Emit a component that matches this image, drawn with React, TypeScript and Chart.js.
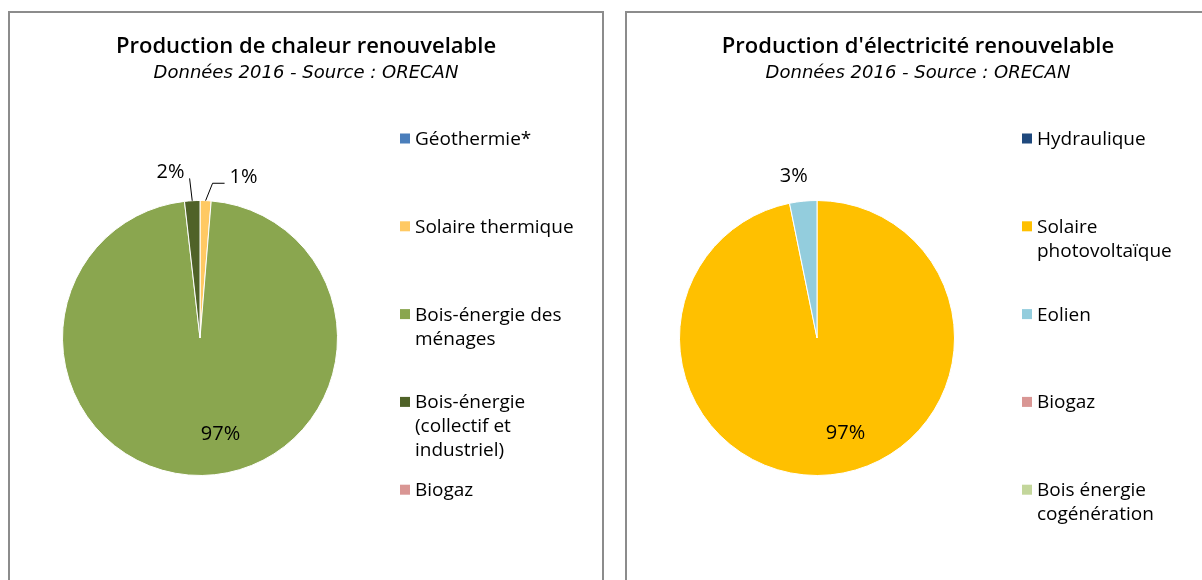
import React, { useEffect, useRef } from "react";
import { Chart, registerables } from "chart.js";

Chart.register(...registerables);

// ---------- Data ----------
const heatTitle = "Production de chaleur renouvelable";
const elecTitle = "Production d'électricité renouvelable";
const subtitleText = "Données 2016 - Source : ORECAN";

const heatCategories: string[][] = [
  ["Géothermie*"],
  ["Solaire thermique"],
  ["Bois-énergie des", "ménages"],
  ["Bois-énergie", "(collectif et", "industriel)"],
  ["Biogaz"],
];
const heatValues = [0, 1.3, 96.9, 1.8, 0];
const heatColors = ["#4A7EBB", "#FFC963", "#8AA64F", "#4F6228", "#D99694"];

const elecCategories: string[][] = [
  ["Hydraulique"],
  ["Solaire", "photovoltaïque"],
  ["Eolien"],
  ["Biogaz"],
  ["Bois énergie", "cogénération"],
];
const elecValues = [0, 96.8, 3.2, 0, 0];
const elecColors = ["#1F497D", "#FFC000", "#93CDDD", "#D99694", "#C3D69B"];

// ---------- Styling ----------
const FONT = "'Open Sans', 'Noto Sans', sans-serif";
const SUB_FONT = "'DejaVu Sans', sans-serif";

type LabelLayout = { r?: number; dx?: number; dy?: number; leader?: number[][] };

const pieExtras = {
  id: "pieExtras",
  afterDraw(chart: any, _args: any, opts: any) {
    const ctx: CanvasRenderingContext2D = chart.ctx;
    const meta = chart.getDatasetMeta(0);
    const data = chart.data.datasets[0].data as number[];
    const colors = chart.data.datasets[0].backgroundColor as string[];
    const labels = chart.data.labels as string[][];
    const total = data.reduce((a, b) => a + b, 0);
    ctx.save();
    ctx.fillStyle = "#000";
    ctx.strokeStyle = "#000";
    ctx.lineWidth = 1;
    ctx.textAlign = "center";
    ctx.textBaseline = "middle";
    // titles (centred on the whole panel)
    const cw = chart.width;
    ctx.font = `600 ${opts.title.size}px ${FONT}`;
    ctx.fillText(opts.title.text, cw / 2, opts.title.y);
    ctx.font = `italic ${opts.subtitle.size}px ${SUB_FONT}`;
    ctx.fillText(opts.subtitle.text, cw / 2, opts.subtitle.y);
    // percentage labels
    ctx.font = `${opts.labelSize}px ${FONT}`;
    meta.data.forEach((arc: any, i: number) => {
      const v = data[i];
      if (!v) return;
      const p = v / total;
      const { x, y, startAngle, endAngle, outerRadius } = arc.getProps(
        ["x", "y", "startAngle", "endAngle", "outerRadius"],
        true
      );
      const mid = (startAngle + endAngle) / 2;
      const txt = Math.round(p * 100) + "%";
      const lay: LabelLayout = (opts.layout && opts.layout[i]) || {};
      const rr = outerRadius * (lay.r ?? (p > 0.5 ? 0.69 : 1.2));
      const lx = x + Math.cos(mid) * rr + (lay.dx || 0);
      const ly = y + Math.sin(mid) * rr + (lay.dy || 0);
      if (lay.leader) {
        const sx = x + Math.cos(mid) * outerRadius;
        const sy = y + Math.sin(mid) * outerRadius;
        ctx.beginPath();
        ctx.moveTo(sx, sy);
        lay.leader.forEach(([ax, ay]) => ctx.lineTo(lx + ax, ly + ay));
        ctx.stroke();
      }
      ctx.fillText(txt, lx, ly);
    });
    // legend
    const lg = opts.legend;
    ctx.font = `${lg.fontSize}px ${FONT}`;
    ctx.textAlign = "left";
    labels.forEach((lines, i) => {
      const yy = lg.y + i * lg.step;
      ctx.fillStyle = colors[i];
      ctx.fillRect(lg.x, yy - lg.box / 2, lg.box, lg.box);
      ctx.fillStyle = "#000";
      lines.forEach((line, j) => {
        ctx.fillText(line, lg.x + lg.box + 5, yy + 1 + j * lg.lineH);
      });
    });
    ctx.restore();
  },
};

function PiePanel(props: {
  left: number;
  width: number;
  title: string;
  labels: string[][];
  values: number[];
  colors: string[];
  padRight: number;
  legendX: number;
  layout: Record<number, LabelLayout>;
}) {
  const ref = useRef<HTMLCanvasElement | null>(null);
  const canvasH = 567;
  useEffect(() => {
    if (!ref.current) return;
    const chart = new Chart(ref.current, {
      type: "pie",
      data: {
        labels: props.labels as any,
        datasets: [
          {
            data: props.values,
            backgroundColor: props.colors,
            borderColor: "#ffffff",
            borderWidth: 1,
          },
        ],
      },
      options: {
        animation: false,
        responsive: false,
        events: [],
        layout: { padding: { left: 52, right: props.padRight, top: 187, bottom: 104 } },
        plugins: {
          legend: { display: false },
          tooltip: { enabled: false },
          title: { display: false },
          subtitle: { display: false },
          pieExtras: {
            title: { text: props.title, size: 22, y: 34 },
            subtitle: { text: subtitleText, size: 18, y: 60.5 },
            labelSize: 20,
            layout: props.layout,
            legend: { x: props.legendX, y: 125.5, step: 87.8, lineH: 24, box: 10, fontSize: 19 },
          },
        } as any,
      },
      plugins: [pieExtras],
    });
    return () => chart.destroy();
  }, []);
  return (
    <div
      style={{
        position: "absolute",
        left: props.left,
        top: 11,
        width: props.width + 4,
        height: 620,
        border: "2px solid #8c8c8c",
        boxSizing: "border-box",
        background: "#fff",
      }}
    >
      <canvas ref={ref} width={props.width} height={canvasH} style={{ display: "block" }} />
    </div>
  );
}

export default function App() {
  return (
    <div
      style={{
        position: "absolute",
        left: 0,
        top: 0,
        width: 1202,
        height: 580,
        overflow: "hidden",
        background: "#fff",
      }}
    >
      <PiePanel
        left={8}
        width={592}
        title={heatTitle}
        labels={heatCategories}
        values={heatValues}
        colors={heatColors}
        padRight={264}
        legendX={390}
        layout={{
          1: { r: 1.17, dx: 37, leader: [[-31, 6], [-19, 6]] },
          2: { dx: 19, dy: 1 },
          3: { r: 1.21, dx: -20, leader: [[19, 6.5]] },
        }}
      />
      <PiePanel
        left={625}
        width={582}
        title={elecTitle}
        labels={elecCategories}
        values={elecValues}
        colors={elecColors}
        padRight={254}
        legendX={395}
        layout={{
          1: { dx: 19, dy: 1 },
          2: { r: 1.18, dx: -7 },
        }}
      />
    </div>
  );
}
